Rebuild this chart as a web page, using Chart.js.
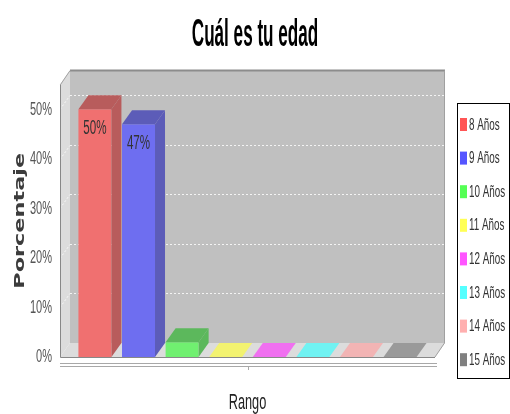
<!DOCTYPE html>
<html>
<head>
<meta charset="utf-8">
<script src="https://cdn.jsdelivr.net/npm/chart.js@4"></script>
<style>
  body { margin: 0; background: #fff; }
  #wrap { width: 510px; height: 414px; }
</style>
</head>
<body>
<div id="wrap"><canvas id="edadChart"></canvas></div>
<script>
// data
const categories = ['Rango'];
const seriesNames = ['8 Años', '9 Años', '10 Años', '11 Años', '12 Años', '13 Años', '14 Años', '15 Años'];
const seriesValues = [50, 47, 3, 0, 0, 0, 0, 0];
const yTicks = [0, 10, 20, 30, 40, 50];

// colours (front face, top/side face, legend swatch)
const frontColors = ['#F07070', '#6E6EF0', '#70F070', '#F2F270', '#F070F0', '#70F2F2', '#F2B4B4', '#9A9A9A'];
const darkColors = ['#B85C5C', '#5C5CB8', '#5CB85C', '#B8B85C', '#B85CB8', '#5CB8B8', '#B89090', '#747474'];
const swatchColors = ['#FF5555', '#5555FF', '#55FF55', '#FFFF55', '#FF55FF', '#55FFFF', '#FFAFAF', '#808080'];

const sans = "'Liberation Sans', Arial, sans-serif";
const DX = 10, DY = 14;

const canvas = document.getElementById('edadChart');
const ctx = canvas.getContext('2d');

// the picture is squeezed sideways: narrow all flat text, stretch the rotated axis title
const rawFillText = ctx.fillText;
ctx.fillText = function (text, x, y, maxWidth) {
    const m = this.getTransform();
    const rotated = Math.abs(m.b) > 1e-6;
    const sx = rotated ? 1.6 : (/bold/.test(this.font) ? 0.45 : 0.58);
    this.save();
    this.translate(x, y);
    this.scale(sx, 1);
    if (maxWidth === undefined) rawFillText.call(this, text, 0, 0);
    else rawFillText.call(this, text, 0, 0, maxWidth / sx);
    this.restore();
};

// 3D walls, floor and grid behind the bars
const walls3d = {
    id: 'walls3d',
    beforeDatasetsDraw(chart) {
        const c = chart.ctx;
        const a = chart.chartArea;
        const y = chart.scales.y;
        c.save();
        // back wall
        c.fillStyle = '#C0C0C0';
        c.fillRect(a.left + DX, a.top - DY, a.right - a.left, a.bottom - a.top);
        // left wall
        c.fillStyle = '#DCDCDC';
        c.beginPath();
        c.moveTo(a.left, a.top);
        c.lineTo(a.left + DX, a.top - DY);
        c.lineTo(a.left + DX, a.bottom - DY);
        c.lineTo(a.left, a.bottom);
        c.closePath();
        c.fill();
        // floor
        c.beginPath();
        c.moveTo(a.left, a.bottom);
        c.lineTo(a.left + DX, a.bottom - DY);
        c.lineTo(a.right + DX, a.bottom - DY);
        c.lineTo(a.right, a.bottom);
        c.closePath();
        c.fill();
        // grid lines
        c.strokeStyle = 'rgba(255,255,255,0.8)';
        c.lineWidth = 1;
        c.setLineDash([2, 2]);
        yTicks.forEach(v => {
            if (v === 0) return;
            const py = Math.round(y.getPixelForValue(v)) + 0.5;
            c.beginPath();
            c.moveTo(a.left + DX, py - DY);
            c.lineTo(a.right + DX, py - DY);
            c.moveTo(a.left, py);
            c.lineTo(a.left + DX, py - DY);
            c.stroke();
        });
        c.setLineDash([]);
        // outline
        c.strokeStyle = '#8C8C8C';
        c.lineWidth = 2;
        c.beginPath();
        c.moveTo(a.left + DX, a.top - DY);
        c.lineTo(a.right + DX, a.top - DY);
        c.stroke();
        c.lineWidth = 1;
        c.strokeStyle = '#A0A0A0';
        c.beginPath();
        c.moveTo(a.left + 0.5, a.top);
        c.lineTo(a.left + DX, a.top - DY);
        c.moveTo(a.right + DX - 0.5, a.top - DY);
        c.lineTo(a.right + DX - 0.5, a.bottom - DY);
        c.lineTo(a.right, a.bottom);
        c.stroke();
        c.strokeStyle = '#888';
        c.beginPath();
        c.moveTo(a.left + 0.5, a.top);
        c.lineTo(a.left + 0.5, a.bottom + 0.5);
        c.lineTo(a.right, a.bottom + 0.5);
        c.stroke();
        // category axis (double line + tick)
        c.strokeStyle = '#A8A8A8';
        c.beginPath();
        c.moveTo(a.left, a.bottom + 6.5);
        c.lineTo(a.right + 2, a.bottom + 6.5);
        c.moveTo(a.left, a.bottom + 9.5);
        c.lineTo(a.right + 2, a.bottom + 9.5);
        const cx = Math.round(chart.scales.x.getPixelForValue(0)) + 0.5;
        c.moveTo(cx, a.bottom + 9.5);
        c.lineTo(cx, a.bottom + 13);
        c.stroke();
        c.restore();
    },
    afterDatasetsDraw(chart) {
        const c = chart.ctx;
        c.save();
        chart.data.datasets.forEach((ds, i) => {
            const meta = chart.getDatasetMeta(i);
            meta.data.forEach((bar, j) => {
                const l = bar.x - bar.width / 2, r = bar.x + bar.width / 2;
                const top = bar.y, base = bar.base;
                const flat = Math.abs(base - top) < 0.5;
                // top face
                c.fillStyle = flat ? frontColors[i] : darkColors[i];
                c.beginPath();
                c.moveTo(l, top);
                c.lineTo(l + DX, top - DY);
                c.lineTo(r + DX, top - DY);
                c.lineTo(r, top);
                c.closePath();
                c.fill();
                if (!flat) {
                    // side face
                    c.fillStyle = darkColors[i];
                    c.beginPath();
                    c.moveTo(r, top);
                    c.lineTo(r + DX, top - DY);
                    c.lineTo(r + DX, base - DY);
                    c.lineTo(r, base);
                    c.closePath();
                    c.fill();
                }
                const v = ds.data[j];
                if (v >= 10) {
                    c.fillStyle = '#333';
                    c.font = '20px ' + sans;
                    c.textAlign = 'center';
                    c.textBaseline = 'middle';
                    c.fillText(v + '%', bar.x, top + 19);
                }
            });
        });
        c.restore();
    },
    afterDraw(chart) {
        // legend box on the right
        const c = chart.ctx;
        c.save();
        c.strokeStyle = '#000';
        c.lineWidth = 1;
        c.strokeRect(457.5, 103.5, 52, 275);
        c.font = '17px ' + sans;
        c.textAlign = 'left';
        c.textBaseline = 'middle';
        chart.data.datasets.forEach((ds, i) => {
            const cy = 125 + i * 33.6;
            c.fillStyle = swatchColors[i];
            c.fillRect(460, cy - 7, 7, 13);
            c.fillStyle = '#333';
            c.fillText(ds.label, 469, cy);
        });
        c.restore();
    }
};

const datasets = seriesNames.map((name, i) => ({
    label: name,
    data: [seriesValues[i]],
    backgroundColor: frontColors[i],
    borderWidth: 0,
    categoryPercentage: 0.93,
    barPercentage: 0.757
}));

const edadChart = new Chart(ctx, {
    type: 'bar',
    data: { labels: categories, datasets: datasets },
    plugins: [walls3d],
    options: {
        responsive: true,
        maintainAspectRatio: false,
        animation: false,
        devicePixelRatio: 1,
        layout: { padding: 0 },
        plugins: {
            legend: { display: false },
            tooltip: { enabled: false },
            title: {
                display: true,
                text: 'Cuál es tu edad',
                color: '#000',
                font: { family: sans, size: 38, weight: 'bold', lineHeight: 1.2 },
                padding: { top: 13, bottom: 26 }
            }
        },
        scales: {
            x: {
                grid: { display: false, drawTicks: false },
                border: { display: false },
                ticks: { display: false },
                title: {
                    display: true,
                    text: 'Rango',
                    color: '#222',
                    font: { family: sans, size: 22, lineHeight: 1 },
                    padding: { top: 0, bottom: 0 }
                },
                afterFit: s => { s.height = 57; }
            },
            y: {
                min: 0,
                max: 55,
                grid: { display: false, drawTicks: false, tickLength: 0 },
                border: { display: false },
                ticks: {
                    stepSize: 10,
                    includeBounds: false,
                    padding: 8,
                    color: '#555',
                    font: { family: sans, size: 19 },
                    callback: v => v + '%'
                },
                title: {
                    display: true,
                    text: 'Porcentaje',
                    color: '#3C3C3C',
                    font: { family: 'DejaVu Sans', size: 14, weight: 'bold' },
                    padding: { top: 12, bottom: 0 }
                },
                afterFit: s => { s.width = 60; }
            },
            // empty right-hand strip that holds the legend box
            side: {
                position: 'right',
                grid: { display: false, drawTicks: false },
                border: { display: false },
                ticks: { display: false },
                afterFit: s => { s.width = 75; }
            }
        }
    }
});
</script>
</body>
</html>
